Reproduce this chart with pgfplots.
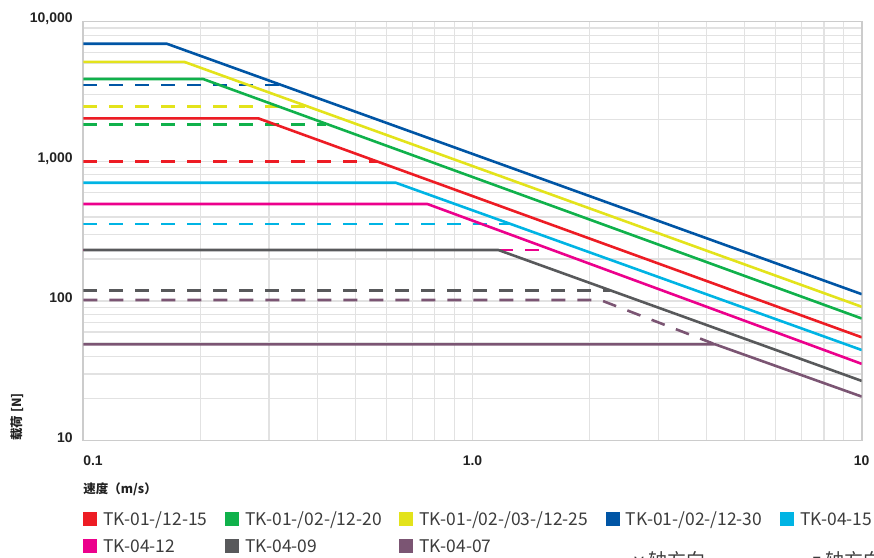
\documentclass[border=0pt]{standalone}
\usepackage{fontspec}
\setmainfont{Liberation Sans}
\newfontfamily\cjk{Noto Sans CJK SC}
\usepackage{pgfplots}
\pgfplotsset{compat=1.18}
\definecolor{cred}{HTML}{ED1C24}
\definecolor{cgreen}{HTML}{10B14B}
\definecolor{cyellow}{HTML}{E3E31B}
\definecolor{cblue}{HTML}{0055A5}
\definecolor{ccyan}{HTML}{00B4E4}
\definecolor{cmag}{HTML}{EC008C}
\definecolor{cgray}{HTML}{58595B}
\definecolor{cpurple}{HTML}{7B5573}
\definecolor{gridc}{HTML}{E2E2E2}
\definecolor{axc}{HTML}{CCCCCC}
\definecolor{tickc}{HTML}{222222}
\definecolor{legc}{HTML}{3C3C3C}
\begin{document}
\begin{tikzpicture}
\useasboundingbox (0,0) rectangle (874bp,558bp);
\begin{axis}[
  at={(83.3bp,117.3bp)}, anchor=south west,
  scale only axis, width=778.4bp, height=419bp,
  xmode=log, ymode=log,
  xmin=0.1, xmax=10, ymin=10, ymax=10000,
  xtick={0.1,1,10}, xticklabels={\hphantom{0.1}0.1,1.0,10},
  ytick={10,100,1000,10000}, yticklabels={10,100,{1,000},{10,000}},
  major tick length=0pt, minor tick length=0pt,
  grid=both,
  major grid style={draw=gridc, line width=1.2bp},
  minor grid style={draw=gridc, line width=1.2bp},
  axis line style={draw=axc, line width=1.6bp},
  tick label style={font=\fontsize{14}{16}\selectfont\bfseries, text=tickc, inner sep=0pt},
  yticklabel style={anchor=east, xshift=-10.5bp, yshift=3bp},
  xticklabel style={anchor=north, yshift=-15bp},
  xlabel={\cjk\bfseries 速度（m/s）},
  xlabel style={at={(axis description cs:0,-0.1153)}, anchor=west, inner sep=0pt, font=\fontsize{12.5}{14}\selectfont, text=tickc},
  ylabel={\cjk\bfseries 载荷 [N]},
  ylabel style={at={(axis description cs:-0.0852,0)}, anchor=west, inner sep=0pt, font=\fontsize{12.5}{14}\selectfont, text=tickc},
  legend columns=5,
  legend cell align=left,
  legend image code/.code={\fill[#1, draw=none] (0bp,-7bp) rectangle (14bp,7bp);},
  legend style={draw=none, fill=none, inner sep=0pt, outer sep=0pt,
    at={(axis description cs:0,-0.1695)}, anchor=north west,
    font=\cjk\fontsize{17.5}{17.5}\selectfont, text=legc,
    nodes={inner sep=0pt, text depth=0pt},
    column sep=6bp, row sep=13bp,
    /tikz/every even column/.append style={column sep=17.8bp}},
  every axis plot/.append style={line width=2.6bp},
]
% dashed (y direction)
\addplot[forget plot, cblue, dash pattern=on 14bp off 12bp] coordinates {(0.1,3520) (0.323,3520)};
\addplot[forget plot, cyellow, dash pattern=on 14bp off 12bp] coordinates {(0.1,2480) (0.376,2480)};
\addplot[forget plot, cgreen, dash pattern=on 14bp off 12bp] coordinates {(0.1,1842) (0.42,1842)};
\addplot[forget plot, cred, dash pattern=on 14bp off 12bp] coordinates {(0.1,1000) (0.568,1000)};
\addplot[forget plot, ccyan, dash pattern=on 14bp off 12bp] coordinates {(0.1,356) (1.254,356)};
\addplot[forget plot, cmag, dash pattern=on 14bp off 12bp] coordinates {(0.1,232) (1.57,232)};
\addplot[forget plot, cgray, dash pattern=on 14bp off 12bp] coordinates {(0.1,118.6) (2.25,118.6)};
\addplot[forget plot, cpurple, dash pattern=on 14bp off 12bp] coordinates {(0.1,101.7) (2.13,101.7) (4.2,49)};
% solid (z direction)
\addplot[cred] coordinates {(0.1,2030) (0.282,2030) (10,55)};
\addlegendentry{TK-01-/12-15}
\addplot[cgreen] coordinates {(0.1,3890) (0.203,3890) (10,75)};
\addlegendentry{TK-01-/02-/12-20}
\addplot[cyellow] coordinates {(0.1,5150) (0.182,5150) (10,91)};
\addlegendentry{TK-01-/02-/03-/12-25}
\addplot[cblue] coordinates {(0.1,6950) (0.164,6950) (10,112)};
\addlegendentry{TK-01-/02-/12-30}
\addplot[ccyan] coordinates {(0.1,703) (0.635,703) (10,44.6)};
\addlegendentry{TK-04-15}
\addplot[cmag] coordinates {(0.1,495) (0.766,495) (10,35.5)};
\addlegendentry{TK-04-12}
\addplot[cgray] coordinates {(0.1,232) (1.165,232) (10,26.8)};
\addlegendentry{TK-04-09}
\addplot[cpurple] coordinates {(0.1,49) (4.2,49) (10,20.7)};
\addlegendentry{TK-04-07}
\end{axis}
\node[anchor=north west, inner sep=0pt, font=\cjk\fontsize{19}{19}\selectfont, text=legc] at (634bp,6.5bp) {y 轴方向};
\node[anchor=north west, inner sep=0pt, font=\cjk\fontsize{19}{19}\selectfont, text=legc] at (812bp,6.5bp) {z 轴方向};
\end{tikzpicture}
\end{document}
